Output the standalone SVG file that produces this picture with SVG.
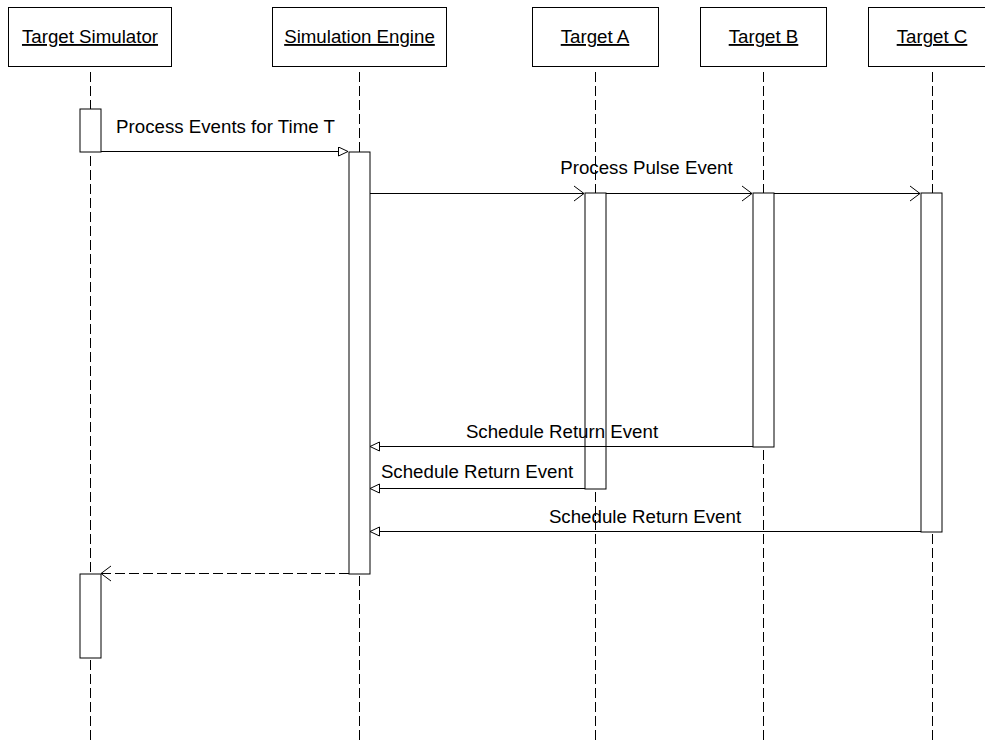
<svg xmlns="http://www.w3.org/2000/svg" width="985" height="744" viewBox="0 0 985 744">
  <style>
    text { font-family: "Liberation Sans", Arial, sans-serif; font-size: 18.7px; fill: #000; }
    .title { text-anchor: middle; text-decoration: underline; }
    .label { text-anchor: middle; }
    .head { fill: #fff; stroke: #000; stroke-width: 1; }
    .life { stroke: #000; stroke-width: 1; stroke-dasharray: 10 4; fill: none; }
    .act { fill: #fff; stroke: #000; stroke-width: 1; }
    .msg { stroke: #000; stroke-width: 1; fill: none; }
    .dashed { stroke-dasharray: 10 4; }
  </style>
  <defs>
    <marker id="tri" markerWidth="12" markerHeight="12" refX="10" refY="5" orient="auto" markerUnits="userSpaceOnUse">
      <path d="M0.5,0.5 L10,5 L0.5,9.5 Z" fill="#fff" stroke="#000" stroke-width="1"/>
    </marker>
    <marker id="open" markerWidth="14" markerHeight="18" refX="11" refY="8.5" orient="auto" markerUnits="userSpaceOnUse">
      <path d="M1,1 L11,8.5 L1,16" fill="none" stroke="#000" stroke-width="1"/>
    </marker>
  </defs>

  <!-- lifelines -->
  <g id="lifelines">
    <line class="life" x1="90.5" y1="72" x2="90.5" y2="744"/>
    <line class="life" x1="359.5" y1="72" x2="359.5" y2="744"/>
    <line class="life" x1="595.5" y1="72" x2="595.5" y2="744"/>
    <line class="life" x1="763.5" y1="72" x2="763.5" y2="744"/>
    <line class="life" x1="932.5" y1="72" x2="932.5" y2="744"/>
  </g>

  <!-- participant heads -->
  <g id="target-simulator">
    <rect class="head" x="8.5" y="7.5" width="163" height="59"/>
    <text class="title" x="90" y="43">Target Simulator</text>
  </g>
  <g id="simulation-engine">
    <rect class="head" x="272.5" y="7.5" width="174" height="59"/>
    <text class="title" x="359.5" y="43">Simulation Engine</text>
  </g>
  <g id="target-a">
    <rect class="head" x="532.5" y="7.5" width="126" height="59"/>
    <text class="title" x="595" y="43">Target A</text>
  </g>
  <g id="target-b">
    <rect class="head" x="700.5" y="7.5" width="126" height="59"/>
    <text class="title" x="763.5" y="43">Target B</text>
  </g>
  <g id="target-c">
    <rect class="head" x="868.5" y="7.5" width="128" height="59"/>
    <text class="title" x="932" y="43">Target C</text>
  </g>

  <!-- activation bars -->
  <g id="activations">
    <rect class="act" x="80" y="109" width="21" height="43"/>
    <rect class="act" x="349" y="152" width="21" height="422"/>
    <rect class="act" x="585" y="193" width="21" height="296"/>
    <rect class="act" x="753" y="193" width="21" height="254"/>
    <rect class="act" x="921" y="193" width="21" height="339"/>
    <rect class="act" x="80" y="574" width="21" height="84"/>
  </g>

  <!-- messages -->
  <g id="connectors">
    <line class="msg" x1="101" y1="151.5" x2="348" y2="151.5" marker-end="url(#tri)"/>
    <text class="label" x="225.5" y="133">Process Events for Time T</text>

    <line class="msg" x1="370" y1="193.5" x2="584" y2="193.5" marker-end="url(#open)"/>
    <line class="msg" x1="606" y1="193.5" x2="752" y2="193.5" marker-end="url(#open)"/>
    <line class="msg" x1="774" y1="193.5" x2="920" y2="193.5" marker-end="url(#open)"/>
    <text class="label" x="646.5" y="174">Process Pulse Event</text>

    <line class="msg" x1="753" y1="446.5" x2="370" y2="446.5" marker-end="url(#tri)"/>
    <text class="label" x="562" y="437.5">Schedule Return Event</text>

    <line class="msg" x1="585" y1="488.5" x2="370" y2="488.5" marker-end="url(#tri)"/>
    <text class="label" x="477" y="477.5">Schedule Return Event</text>

    <line class="msg" x1="921" y1="531.5" x2="370" y2="531.5" marker-end="url(#tri)"/>
    <text class="label" x="645" y="522.5">Schedule Return Event</text>

    <line class="msg dashed" x1="349" y1="573.5" x2="101" y2="573.5" marker-end="url(#open)"/>
  </g>
</svg>
